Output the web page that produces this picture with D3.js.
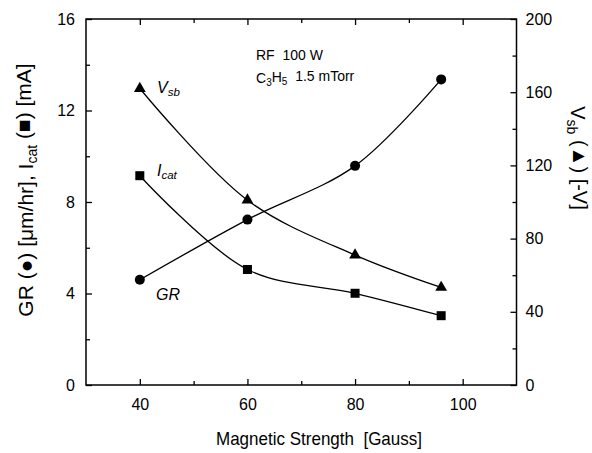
<!DOCTYPE html>
<html><head><meta charset="utf-8">
<script src="https://cdn.jsdelivr.net/npm/d3@7"></script>
<style>
body{margin:0;background:#fff;}
text{font-family:"Liberation Sans",Arial,sans-serif;fill:#000;}
</style></head>
<body><svg id="c" width="592" height="453"></svg>
<script>
const magnetic = [40, 60, 80, 96];
const growthRate = [4.6, 7.23, 9.58, 13.36];
const cathodeCurrent = [9.15, 5.05, 4.01, 3.03];
const selfBias = [162, 101, 71, 53.3];
const xTicks = [40, 60, 80, 100];
const yLeftTicks = [0, 4, 8, 12, 16];
const yRightTicks = [0, 40, 80, 120, 160, 200];

const svg = d3.select("#c");
svg.append("rect").attr("width",592).attr("height",453).attr("fill","#fff");
const L=86, R=516.5, T=19, B=385;
const x = d3.scaleLinear([30,110],[L,R]);
const yL = d3.scaleLinear([0,16],[B,T]);
const yR = d3.scaleLinear([0,200],[B,T]);

// frame
svg.append("rect").attr("x",L).attr("y",T).attr("width",R-L).attr("height",B-T)
  .attr("fill","none").attr("stroke","#000").attr("stroke-width",1.5);

function styleAxis(g){
  g.select(".domain").remove();
  g.selectAll(".tick line").attr("stroke","#000").attr("stroke-width",1.3);
  g.selectAll(".tick text").attr("font-size",16).attr("font-family","Liberation Sans, Arial, sans-serif");
}
// bottom axis
svg.append("g").attr("transform",`translate(0,${B})`)
  .call(d3.axisBottom(x).tickValues(xTicks).tickSize(-6).tickPadding(14).tickFormat(d3.format("d")))
  .call(styleAxis);
svg.append("g").attr("transform",`translate(0,${B})`)
  .call(d3.axisBottom(x).tickValues([50,70,90]).tickSize(-4).tickFormat(""))
  .call(styleAxis);
// top axis
svg.append("g").attr("transform",`translate(0,${T})`)
  .call(d3.axisTop(x).tickValues(xTicks).tickSize(-6).tickFormat(""))
  .call(styleAxis);
svg.append("g").attr("transform",`translate(0,${T})`)
  .call(d3.axisTop(x).tickValues([50,70,90]).tickSize(-4).tickFormat(""))
  .call(styleAxis);
// left axis
svg.append("g").attr("transform",`translate(${L},0)`)
  .call(d3.axisLeft(yL).tickValues(yLeftTicks).tickSize(-6).tickPadding(11).tickFormat(d3.format("d")))
  .call(styleAxis);
svg.append("g").attr("transform",`translate(${L},0)`)
  .call(d3.axisLeft(yL).tickValues([2,6,10,14]).tickSize(-4).tickFormat(""))
  .call(styleAxis);
// right axis
svg.append("g").attr("transform",`translate(${R},0)`)
  .call(d3.axisRight(yR).tickValues(yRightTicks).tickSize(-6).tickPadding(9).tickFormat(d3.format("d")))
  .call(styleAxis);
svg.append("g").attr("transform",`translate(${R},0)`)
  .call(d3.axisRight(yR).tickValues([20,60,100,140,180]).tickSize(-4).tickFormat(""))
  .call(styleAxis);

// series
const curve = d3.curveCatmullRom.alpha(0.5);
const lineL = d3.line().x((d,i)=>x(magnetic[i])).y(d=>yL(d)).curve(curve);
const lineR = d3.line().x((d,i)=>x(magnetic[i])).y(d=>yR(d)).curve(curve);
const plot = svg.append("g");
plot.append("path").attr("d",lineL(growthRate)).attr("fill","none").attr("stroke","#000").attr("stroke-width",1.3);
plot.append("path").attr("d",lineL(cathodeCurrent)).attr("fill","none").attr("stroke","#000").attr("stroke-width",1.3);
plot.append("path").attr("d",lineR(selfBias)).attr("fill","none").attr("stroke","#000").attr("stroke-width",1.3);

plot.selectAll("circle.gr").data(growthRate).join("circle")
  .attr("cx",(d,i)=>x(magnetic[i])).attr("cy",d=>yL(d)).attr("r",5).attr("fill","#000");
plot.selectAll("rect.ic").data(cathodeCurrent).join("rect")
  .attr("x",(d,i)=>x(magnetic[i])-4.5).attr("y",d=>yL(d)-4.5).attr("width",9).attr("height",9).attr("fill","#000");
const tri = d3.symbol().type(d3.symbolTriangle).size(60);
plot.selectAll("path.vs").data(selfBias).join("path")
  .attr("d",tri).attr("transform",(d,i)=>`translate(${x(magnetic[i])},${yR(d)})`).attr("fill","#000");

// series labels
function subLabel(xp, yp, main, sub, size, italic){
  const t = svg.append("text").attr("x",xp).attr("y",yp).attr("font-size",size)
    .attr("font-style",italic?"italic":"normal");
  t.append("tspan").text(main);
  t.append("tspan").attr("dy","0.3em").attr("font-size",size*0.72).text(sub);
  return t;
}
subLabel(157, 93, "V", "sb", 16, true);
subLabel(157, 176, "I", "cat", 16, true);
svg.append("text").attr("x",156).attr("y",300).attr("font-size",16).attr("font-style","italic").text("GR");

// annotations
svg.append("text").attr("x",256).attr("y",60).attr("font-size",14).attr("xml:space","preserve").text("RF  100 W");
const c = svg.append("text").attr("x",256).attr("y",83).attr("font-size",14).attr("xml:space","preserve");
c.append("tspan").text("C");
c.append("tspan").attr("dy","0.3em").attr("font-size",10).text("3");
c.append("tspan").attr("dy","-0.3em").text("H");
c.append("tspan").attr("dy","0.3em").attr("font-size",10).text("5");
c.append("tspan").attr("dy","-0.3em").text("  1.5 mTorr");

// axis titles
svg.append("text").attr("x",319).attr("y",445).attr("text-anchor","middle").attr("font-size",19)
  .attr("textLength",206).attr("lengthAdjust","spacingAndGlyphs").attr("xml:space","preserve")
  .text("Magnetic Strength  [Gauss]");

const yl = svg.append("text").attr("transform","translate(33,190) rotate(-90)")
  .attr("text-anchor","middle").attr("font-size",21);
yl.append("tspan").text("GR (●) [μm/hr], I");
yl.append("tspan").attr("dy","0.3em").attr("font-size",14).text("cat");
yl.append("tspan").attr("dy","-0.3em").text(" (■) [mA]");

const yr = svg.append("text").attr("transform","translate(571,158) rotate(90)")
  .attr("text-anchor","middle").attr("font-size",20);
yr.append("tspan").text("V");
yr.append("tspan").attr("dy","0.3em").attr("font-size",14).text("sb");
yr.append("tspan").attr("dy","-0.3em").text(" (▲) [-V]");
</script></body></html>
